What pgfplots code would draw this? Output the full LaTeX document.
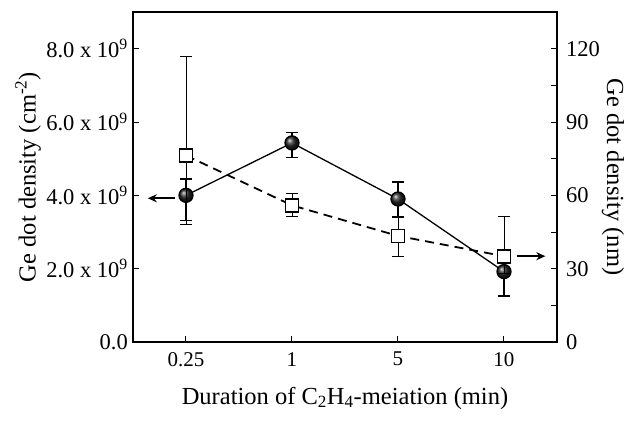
\documentclass[border=0pt]{standalone}
\usepackage{fontspec}
\setmainfont{Liberation Serif}
\usepackage{pgfplots}
\pgfplotsset{compat=1.18}
\usetikzlibrary{arrows.meta}
\begin{document}
\begin{tikzpicture}
\begin{axis}[name=ax1,
  scale only axis, width=424pt, height=330pt,
  xmin=-0.5, xmax=3.5, ymin=0, ymax=9,
  xtick={0,1,2,3}, xticklabels={0.25,1,5,10},
  ytick={0,2,4,6,8},
  yticklabels={0.0, 2.0 x 10\textsuperscript{9}, 4.0 x 10\textsuperscript{9}, 6.0 x 10\textsuperscript{9}, 8.0 x 10\textsuperscript{9}},
  xtick pos=bottom, ytick pos=left,
  tick style={black, line width=1pt}, major tick length=6pt,
  axis line style={line width=1.5pt},
  xticklabel style={font=\fontsize{21}{25}\selectfont, anchor=north, inner sep=0pt, yshift=-10pt},
  yticklabel style={font=\fontsize{22.5}{26}\selectfont, anchor=east, inner sep=0pt, xshift=-5pt},
  label style={font=\fontsize{24.5}{28}\selectfont},
  xlabel={Duration of C\textsubscript{2}H\textsubscript{4}-meiation (min)},
  ylabel={Ge dot density (cm\textsuperscript{-2})},
  xlabel style={at={(axis description cs:0.5,-0.1697)}, anchor=center},
  ylabel style={at={(axis description cs:-0.2476,0.5)}, anchor=center},
  clip=false,
]
\addplot[black, line width=1.3pt, mark=ball, mark size=7pt, mark options={ball color=black!85},
  error bars/.cd, y dir=both, y explicit, error bar style={line width=1.5pt}, error mark options={rotate=90, mark size=6pt, line width=1.5pt}]
coordinates {
  (0,4.00) += (0,0.45) -= (0,0.68)
  (1,5.43) += (0,0.29) -= (0,0.40)
  (2,3.90) += (0,0.46) -= (0,0.49)
  (3,1.92) += (0,0.55) -= (0,0.66)
};
\draw[-{Stealth[length=9pt,width=8pt]}, line width=2pt] (axis cs:-0.1,3.92) -- (axis cs:-0.36,3.92);
\end{axis}
\begin{axis}[
  scale only axis, width=424pt, height=330pt,
  xmin=-0.5, xmax=3.5, ymin=0, ymax=135,
  axis x line=none, axis y line*=right,
  ytick={0,30,60,90,120}, minor ytick={15,45,75,105},
  tick style={black, line width=1pt}, major tick length=6pt, minor tick length=6pt,
  axis line style={line width=1.5pt},
  yticklabel style={font=\fontsize{22.5}{26}\selectfont, anchor=west, inner sep=0pt, xshift=9pt},
  /pgf/number format/assume math mode=true,
  label style={font=\fontsize{24.5}{28}\selectfont},
  ylabel={Ge dot density (nm)},
  ylabel style={at={(axis description cs:1.132,0.5)}, anchor=center, rotate=180},
  clip=false,
]
\addplot[black, line width=1.8pt, dash pattern=on 9pt off 6pt, mark=square*, mark size=6.5pt,
  mark options={solid, fill=white, line width=1.8pt},
  error bars/.cd, y dir=both, y explicit, error bar style={line width=0.7pt, solid}, error mark options={rotate=90, mark size=6pt, line width=0.7pt, solid}]
coordinates {
  (0,76.3) += (0,40.7) -= (0,28.3)
  (1,55.9) += (0,4.8) -= (0,4.5)
  (2,43.4) += (0,7.6) -= (0,8.2)
  (3,35.1) += (0,16.1) -= (0,7.0)
};
\draw[-{Stealth[length=9pt,width=8pt]}, line width=2pt] (axis cs:3.12,35.1) -- (axis cs:3.39,35.1);
\end{axis}
\path (ax1.south west) ++(-133pt,-82pt) rectangle ++(630pt,424pt);
\end{tikzpicture}
\end{document}
